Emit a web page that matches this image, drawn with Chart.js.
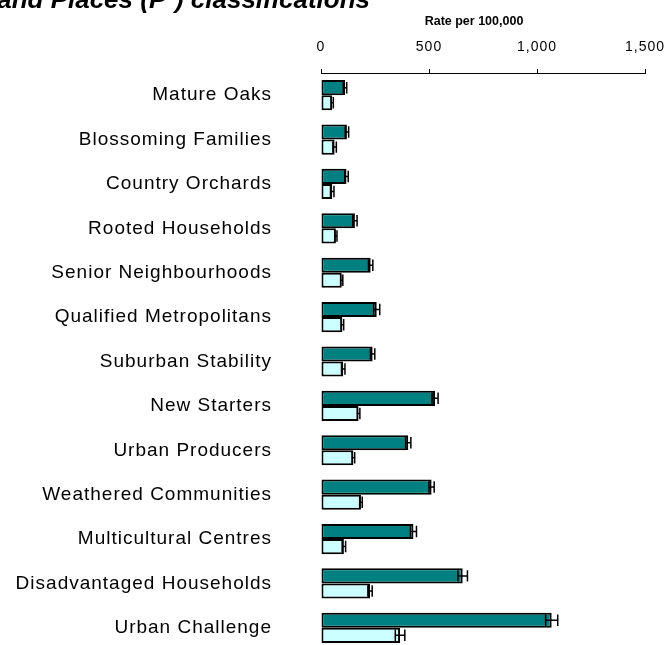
<!DOCTYPE html>
<html>
<head>
<meta charset="utf-8">
<script src="https://cdn.jsdelivr.net/npm/chart.js@4"></script>
<style>
  html, body { margin: 0; padding: 0; background: #fff; overflow: hidden; }
  canvas { display: block; }
</style>
</head>
<body>
<canvas id="rateChart" width="672" height="650"></canvas>
<script>
const categories = [
    'Mature Oaks', 'Blossoming Families', 'Country Orchards', 'Rooted Households',
    'Senior Neighbourhoods', 'Qualified Metropolitans', 'Suburban Stability',
    'New Starters', 'Urban Producers', 'Weathered Communities',
    'Multicultural Centres', 'Disadvantaged Households', 'Urban Challenge'
];
const ratesA = [111, 120, 118, 157, 230, 258, 239, 528, 404, 512, 428, 656, 1068];
const ratesB = [52, 63, 52, 69, 96, 99, 103, 174, 150, 185, 106, 227, 366];
// half-width of the confidence interval around each rate
const errA = [8, 8, 8, 10, 10, 14, 10, 14, 12, 12, 14, 22, 28];
const errB = [5, 8, 8, 5, 5, 6, 8, 6, 6, 6, 8, 10, 22];
const xTicks = [0, 500, 1000, 1500];

const FONT = '"Liberation Sans", Arial, sans-serif';

// wider letter spacing for axis text
const spacing = {
    id: 'spacing',
    beforeLayout(chart) { chart.ctx.letterSpacing = '1px'; },
    beforeDraw(chart) { chart.ctx.letterSpacing = '1px'; }
};

const errorBars = {
    id: 'errorBars',
    afterDatasetsDraw(chart) {
        const ctx = chart.ctx;
        const xs = chart.scales.x;
        const errs = [errA, errB];
        ctx.save();
        ctx.strokeStyle = '#000';
        ctx.lineWidth = 1.5;
        chart.data.datasets.forEach((ds, d) => {
            chart.getDatasetMeta(d).data.forEach((bar, i) => {
                const v = ds.data[i];
                const x0 = xs.getPixelForValue(v - errs[d][i]);
                const x1 = xs.getPixelForValue(v + errs[d][i]);
                const h = bar.height * 0.38;
                ctx.beginPath();
                ctx.moveTo(x0, bar.y); ctx.lineTo(x1, bar.y);
                ctx.moveTo(x0, bar.y - h); ctx.lineTo(x0, bar.y + h);
                ctx.moveTo(x1, bar.y - h); ctx.lineTo(x1, bar.y + h);
                ctx.stroke();
            });
        });
        ctx.restore();
    }
};

const titles = {
    id: 'titles',
    afterDraw(chart) {
        const ctx = chart.ctx;
        const area = chart.chartArea;
        ctx.save();
        ctx.letterSpacing = '0px';
        ctx.fillStyle = '#000';
        ctx.font = 'bold italic 26px ' + FONT;
        ctx.textAlign = 'right';
        ctx.textBaseline = 'alphabetic';
        ctx.fillText('and Places (P\u00B2) classifications', 370, 8);
        ctx.font = 'bold 12.5px ' + FONT;
        ctx.textAlign = 'center';
        ctx.textBaseline = 'middle';
        ctx.fillText('Rate per 100,000', (area.left + area.right) / 2 - 9, 22);
        ctx.restore();
    }
};

const ctx = document.getElementById('rateChart').getContext('2d');

new Chart(ctx, {
    type: 'bar',
    data: {
        labels: categories,
        datasets: [{
            label: 'Rate A',
            data: ratesA,
            backgroundColor: '#008080',
            borderColor: '#000',
            borderWidth: 2,
            borderSkipped: false,
            barPercentage: 1,
            categoryPercentage: 0.68
        }, {
            label: 'Rate B',
            data: ratesB,
            backgroundColor: '#CCFFFF',
            borderColor: '#000',
            borderWidth: 2,
            borderSkipped: false,
            barPercentage: 1,
            categoryPercentage: 0.68
        }]
    },
    options: {
        indexAxis: 'y',
        responsive: false,
        animation: false,
        layout: { padding: { top: 0, right: 27, bottom: 0, left: 0 } },
        plugins: {
            legend: { display: false },
            tooltip: { enabled: false }
        },
        scales: {
            x: {
                position: 'top',
                min: 0,
                max: 1500,
                afterBuildTicks: scale => { scale.ticks = xTicks.map(v => ({ value: v })); },
                afterFit: scale => {
                    scale.height = 73;
                    scale.paddingLeft = 0;
                    scale.paddingRight = 0;
                },
                ticks: {
                    color: '#000',
                    font: { family: FONT, size: 14 },
                    padding: 13,
                    maxRotation: 0,
                    callback: v => Number(v).toLocaleString('en-US')
                },
                grid: { drawOnChartArea: false, drawTicks: true, tickLength: 4, color: '#000' },
                border: { display: true, color: '#000', width: 1 }
            },
            y: {
                afterFit: scale => {
                    scale.width = 321;
                    scale.paddingTop = 0;
                    scale.paddingBottom = 0;
                },
                ticks: {
                    color: '#000',
                    font: { family: FONT, size: 19 },
                    padding: 49,
                    autoSkip: false
                },
                grid: { display: false, drawTicks: false },
                border: { display: false }
            }
        }
    },
    plugins: [spacing, errorBars, titles]
});
</script>
</body>
</html>
